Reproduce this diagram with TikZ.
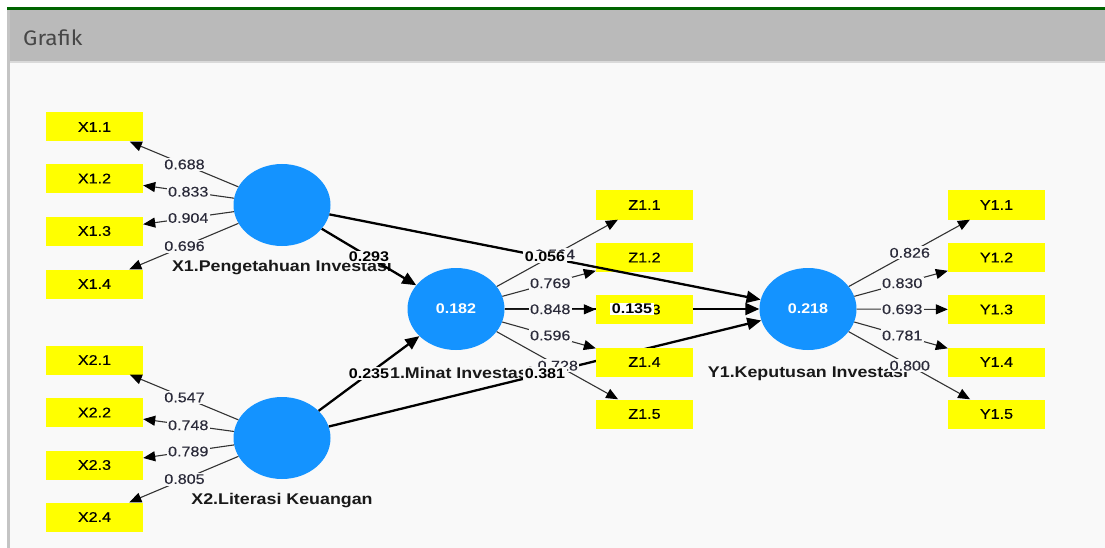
\documentclass[tikz,border=0pt]{standalone}
\usepackage{fontspec}
\setmainfont{Liberation Sans}[FakeStretch=1.15]
\newfontfamily\regf{Liberation Sans}[FakeStretch=1.15,FakeBold=0.35]
\newfontfamily\hdrfont{Fira Sans}[FakeStretch=1.08]
\usetikzlibrary{arrows.meta,shapes.geometric}
\definecolor{panel}{HTML}{F9F9F9}
\definecolor{hdr}{HTML}{BABABA}
\definecolor{hdrline}{HTML}{DADADA}
\definecolor{leftstrip}{HTML}{C4C4C4}
\definecolor{topgreen}{HTML}{006400}
\definecolor{lvblue}{HTML}{1493FF}
\definecolor{indyellow}{HTML}{FFFF00}
\definecolor{ldline}{HTML}{333333}
\definecolor{labtxt}{HTML}{2B2B3A}
\tikzset{
  ind/.style={rectangle,fill=indyellow,minimum width=97pt,minimum height=29pt,inner sep=0pt,
    font=\regf\fontsize{14}{16}\selectfont,text=black},
  lv/.style={ellipse,fill=lvblue,minimum width=97pt,minimum height=82pt,inner sep=0pt,
    font=\fontsize{14}{16}\selectfont\bfseries,text=white},
  lvname/.style={font=\fontsize{15.5}{18}\selectfont\bfseries,text=black!90,inner sep=0pt},
  ld/.style={draw=ldline,line width=1.1pt,-{Triangle[length=12pt,width=10pt,color=black]}},
  sp/.style={draw=black,line width=2.3pt,-{Triangle[length=14pt,width=12pt]}},
  lab/.style={fill=panel,inner sep=1.5pt,font=\regf\fontsize{14}{16}\selectfont,text=labtxt},
  coef/.style={fill=panel,inner sep=1.5pt,font=\fontsize{14}{16}\selectfont\bfseries,text=black}
}
\begin{document}
\begin{tikzpicture}[x=1pt,y=-1pt]
\useasboundingbox (0,0) rectangle (1105,548);
% frame
\fill[white] (0,0) rectangle (1105,548);
\fill[panel] (10,62) rectangle (1105,548);
\fill[hdr] (7,10) rectangle (1105,61);
\fill[hdrline] (10,61) rectangle (1105,63);
\fill[topgreen] (7,7) rectangle (1105,10);
\fill[leftstrip] (7,10) rectangle (10,548);
\node[anchor=west,inner sep=0pt,font=\hdrfont\fontsize{21}{24}\selectfont,text=black!72] (title) at (23,38) {Grafik};

% latent variables
\node[lv] (X1) at (282,205) {};
\node[lv] (X2) at (282,438) {};
\node[lv] (Z)  at (456,309) {0.182};
\node[lv] (Y)  at (808,309) {0.218};

% names of latent variables
\node[lvname] (nX1) at (282,268) {X1.Pengetahuan Investasi};
\node[lvname] (nX2) at (282,501) {X2.Literasi Keuangan};
\node[lvname] (nZ)  at (456,373) {Z1.Minat Investasi};
\node[lvname] (nY)  at (808,373) {Y1.Keputusan Investasi};

% indicator positions
\coordinate (pz1) at (644.5,205);
\coordinate (pz2) at (644.5,257.5);
\coordinate (pz3) at (644.5,309.5);
\coordinate (pz4) at (644.5,362);
\coordinate (pz5) at (644.5,414);

% structural paths running beneath the indicator boxes
\draw[sp] (X1) -- (Z);
\draw[sp] (X2) -- (Z);
\draw[sp] (X2) -- (Y);
\draw[sp] (Z) -- (Y);

% indicators
\foreach \i/\yy in {1/127,2/178.5,3/231,4/284}{
  \node[ind] (x1\i) at (94.5,\yy) {X1.\i};}
\foreach \i/\yy in {1/360,2/412.5,3/465,4/517}{
  \node[ind] (x2\i) at (94.5,\yy) {X2.\i};}
\foreach \i in {1,...,5}{
  \node[ind] (z\i) at (pz\i) {Z1.\i};
  \node[ind] (y\i) at (996.5,0|-pz\i) {Y1.\i};}

% structural path drawn over the boxes
\draw[sp] (X1) -- (Y);

% outer loadings
\foreach \i/\v/\p in {1/0.688/0.52,2/0.833/0.5,3/0.904/0.5,4/0.696/0.52}{
  \draw[ld] (X1) -- (x1\i);
  \path (X1.center) -- (x1\i.center) node[lab,pos=\p] (lx1\i) {\v};}
\foreach \i/\v/\p in {1/0.547/0.52,2/0.748/0.5,3/0.789/0.5,4/0.805/0.52}{
  \draw[ld] (X2) -- (x2\i);
  \path (X2.center) -- (x2\i.center) node[lab,pos=\p] (lx2\i) {\v};}
\foreach \i/\v/\p in {1/0.564/0.525,2/0.769/0.5,3/0.848/0.5,4/0.596/0.5,5/0.728/0.54}{
  \draw[ld] (Z) -- (z\i);
  \path (Z.center) -- (z\i.center) node[lab,pos=\p] (lz\i) {\v};}
\foreach \i/\v/\p in {1/0.826/0.54,2/0.830/0.5,3/0.693/0.5,4/0.781/0.5,5/0.800/0.54}{
  \draw[ld] (Y) -- (y\i);
  \path (Y.center) -- (y\i.center) node[lab,pos=\p] (ly\i) {\v};}

% path coefficients
\path (X1.center) -- (Z.center) node[coef,pos=0.5] (c1) {0.293};
\path (X2.center) -- (Z.center) node[coef,pos=0.5] (c2) {0.235};
\path (X1.center) -- (Y.center) node[coef,pos=0.5] (c3) {0.056};
\path (X2.center) -- (Y.center) node[coef,pos=0.5] (c4) {0.381};
\path (Z.center) -- (Y.center) node[coef,fill=white,pos=0.5] (c5) {0.135};
\end{tikzpicture}
\end{document}
